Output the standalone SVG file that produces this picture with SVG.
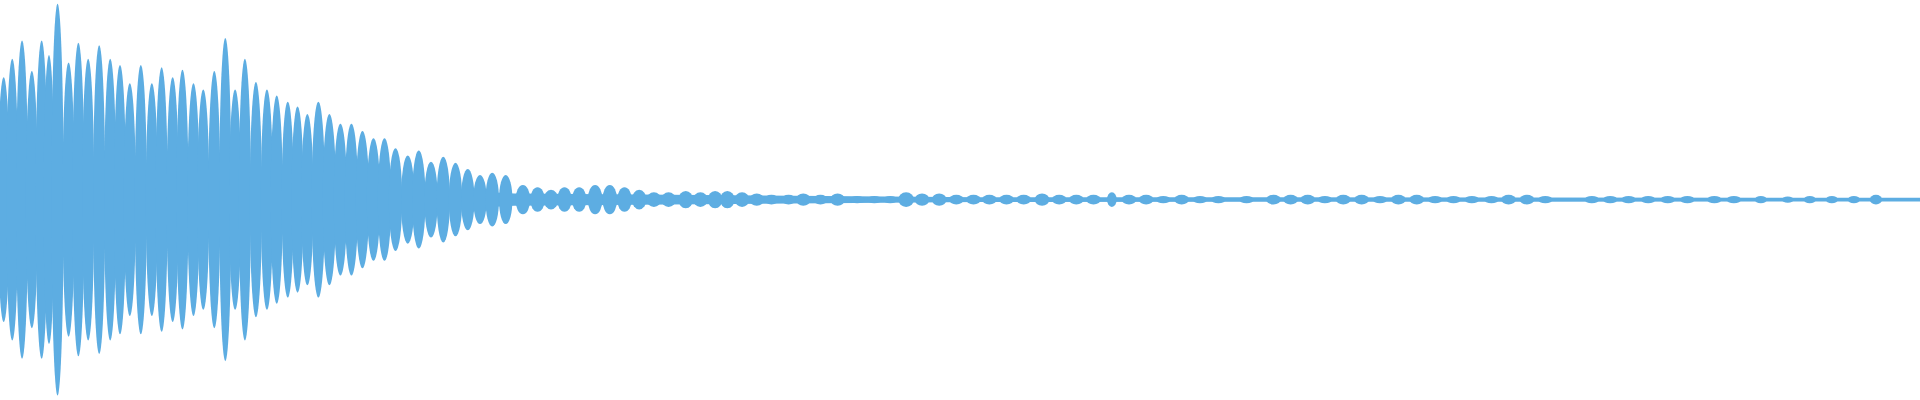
<svg xmlns="http://www.w3.org/2000/svg" width="1920" height="400" viewBox="0 0 1920 400">
<style>ellipse,polygon{fill:#5DADE2}</style>
<rect width="1920" height="400" fill="#fff"/>
<g transform="scale(1.2245)">
<polygon points="0,118 40,120 120,140 250,150 420,158 800,161 1568,161.5 1568,164.5 800,165 420,168 250,176 120,186 40,206 0,208"/>
<g>
<ellipse cx="3" cy="163" rx="5" ry="100"/><ellipse cx="10" cy="163" rx="5" ry="115"/><ellipse cx="18" cy="163" rx="5" ry="130"/><ellipse cx="26" cy="163" rx="5" ry="105"/><ellipse cx="34" cy="163" rx="5" ry="130"/><ellipse cx="40" cy="163" rx="4.5" ry="118"/><ellipse cx="47" cy="163" rx="5" ry="160"/><ellipse cx="56" cy="163" rx="5" ry="112"/><ellipse cx="64" cy="163" rx="5" ry="128"/><ellipse cx="72" cy="163" rx="5" ry="115"/><ellipse cx="81" cy="163" rx="5" ry="126"/><ellipse cx="90" cy="163" rx="5" ry="115"/><ellipse cx="98" cy="163" rx="5" ry="110"/><ellipse cx="106" cy="163" rx="5" ry="95"/><ellipse cx="115" cy="163" rx="5" ry="110"/><ellipse cx="124" cy="163" rx="5" ry="95"/><ellipse cx="132" cy="163" rx="5" ry="108"/><ellipse cx="141" cy="163" rx="5" ry="100"/><ellipse cx="149" cy="163" rx="5" ry="106"/><ellipse cx="158" cy="163" rx="5" ry="95"/><ellipse cx="166" cy="163" rx="5" ry="90"/><ellipse cx="175" cy="163" rx="5" ry="105"/><ellipse cx="184" cy="163" rx="5" ry="132"/><ellipse cx="192" cy="163" rx="5" ry="90"/><ellipse cx="200" cy="163" rx="5" ry="115"/><ellipse cx="209" cy="163" rx="5" ry="96"/><ellipse cx="218" cy="163" rx="5" ry="90"/><ellipse cx="226" cy="163" rx="5" ry="85"/><ellipse cx="235" cy="163" rx="5" ry="80"/><ellipse cx="243" cy="163" rx="5" ry="76"/><ellipse cx="251" cy="163" rx="5" ry="70"/><ellipse cx="260" cy="163" rx="5.5" ry="80"/><ellipse cx="269" cy="163" rx="5.5" ry="70"/><ellipse cx="278" cy="163" rx="5.5" ry="62"/><ellipse cx="287" cy="163" rx="5.5" ry="62"/><ellipse cx="296" cy="163" rx="5.5" ry="56"/><ellipse cx="305" cy="163" rx="5.5" ry="50"/><ellipse cx="314" cy="163" rx="5.5" ry="50"/><ellipse cx="323" cy="163" rx="5.5" ry="42"/><ellipse cx="333" cy="163" rx="5.5" ry="36"/><ellipse cx="342" cy="163" rx="5.5" ry="40"/><ellipse cx="352" cy="163" rx="5.5" ry="31"/><ellipse cx="362" cy="163" rx="5.5" ry="35"/><ellipse cx="372" cy="163" rx="5.5" ry="30"/><ellipse cx="382" cy="163" rx="5.5" ry="25"/><ellipse cx="392" cy="163" rx="5.5" ry="20"/><ellipse cx="402" cy="163" rx="5.5" ry="22"/><ellipse cx="413" cy="163" rx="5.5" ry="20"/><ellipse cx="427" cy="163" rx="6" ry="12"/><ellipse cx="439" cy="163" rx="6" ry="10"/><ellipse cx="450" cy="163" rx="6" ry="8"/><ellipse cx="461" cy="163" rx="6" ry="10"/><ellipse cx="473" cy="163" rx="6" ry="10"/><ellipse cx="486" cy="163" rx="6" ry="12"/><ellipse cx="498" cy="163" rx="6" ry="12"/><ellipse cx="510" cy="163" rx="6" ry="10"/><ellipse cx="522" cy="163" rx="6" ry="8"/><ellipse cx="534" cy="163" rx="6" ry="6"/><ellipse cx="546" cy="163" rx="6" ry="6"/><ellipse cx="560" cy="163" rx="6" ry="7"/><ellipse cx="572" cy="163" rx="6" ry="6"/><ellipse cx="584" cy="163" rx="6" ry="7"/><ellipse cx="594" cy="163" rx="6" ry="7"/><ellipse cx="606" cy="163" rx="6" ry="6"/><ellipse cx="618" cy="163" rx="6" ry="5"/><ellipse cx="630" cy="163" rx="6" ry="4"/><ellipse cx="644" cy="163" rx="6" ry="4"/><ellipse cx="656" cy="163" rx="6" ry="5"/><ellipse cx="670" cy="163" rx="6" ry="4"/><ellipse cx="684" cy="163" rx="6" ry="5"/><ellipse cx="700" cy="163" rx="6" ry="3"/><ellipse cx="714" cy="163" rx="6" ry="3"/><ellipse cx="727" cy="163" rx="6" ry="3"/><ellipse cx="740" cy="163" rx="6.5" ry="6"/><ellipse cx="753" cy="163" rx="6" ry="5"/><ellipse cx="767" cy="163" rx="6" ry="5"/><ellipse cx="781" cy="163" rx="6" ry="4"/><ellipse cx="795" cy="163" rx="6" ry="4"/><ellipse cx="808" cy="163" rx="6" ry="4"/><ellipse cx="822" cy="163" rx="6" ry="4"/><ellipse cx="836" cy="163" rx="6" ry="4"/><ellipse cx="851" cy="163" rx="6" ry="5"/><ellipse cx="865" cy="163" rx="6" ry="4"/><ellipse cx="879" cy="163" rx="6" ry="4"/><ellipse cx="893" cy="163" rx="6" ry="4"/><ellipse cx="908" cy="163" rx="4" ry="6"/><ellipse cx="922" cy="163" rx="6" ry="4"/><ellipse cx="936" cy="163" rx="6" ry="4"/><ellipse cx="950" cy="163" rx="6" ry="3"/><ellipse cx="965" cy="163" rx="6" ry="4"/><ellipse cx="980" cy="163" rx="6" ry="3"/><ellipse cx="995" cy="163" rx="6" ry="3"/><ellipse cx="1018" cy="163" rx="6" ry="3"/><ellipse cx="1040" cy="163" rx="6" ry="4"/><ellipse cx="1054" cy="163" rx="6" ry="4"/><ellipse cx="1068" cy="163" rx="6" ry="4"/><ellipse cx="1082" cy="163" rx="6" ry="3"/><ellipse cx="1097" cy="163" rx="6" ry="4"/><ellipse cx="1112" cy="163" rx="6" ry="4"/><ellipse cx="1127" cy="163" rx="6" ry="3"/><ellipse cx="1142" cy="163" rx="6" ry="4"/><ellipse cx="1157" cy="163" rx="6" ry="4"/><ellipse cx="1172" cy="163" rx="6" ry="3"/><ellipse cx="1187" cy="163" rx="6" ry="3"/><ellipse cx="1202" cy="163" rx="6" ry="3"/><ellipse cx="1218" cy="163" rx="6" ry="3"/><ellipse cx="1232" cy="163" rx="6" ry="4"/><ellipse cx="1247" cy="163" rx="6" ry="4"/><ellipse cx="1262" cy="163" rx="6" ry="3"/><ellipse cx="1300" cy="163" rx="6" ry="3"/><ellipse cx="1315" cy="163" rx="6" ry="3"/><ellipse cx="1330" cy="163" rx="6" ry="3"/><ellipse cx="1346" cy="163" rx="6" ry="3"/><ellipse cx="1362" cy="163" rx="6" ry="3"/><ellipse cx="1378" cy="163" rx="6" ry="3"/><ellipse cx="1400" cy="163" rx="6" ry="3"/><ellipse cx="1416" cy="163" rx="6" ry="3"/><ellipse cx="1438" cy="163" rx="5" ry="3"/><ellipse cx="1460" cy="163" rx="5" ry="2.5"/><ellipse cx="1478" cy="163" rx="5" ry="3"/><ellipse cx="1496" cy="163" rx="5" ry="3"/><ellipse cx="1514" cy="163" rx="5" ry="3"/><ellipse cx="1532" cy="163" rx="5" ry="4"/>
</g>
</g>
</svg>
